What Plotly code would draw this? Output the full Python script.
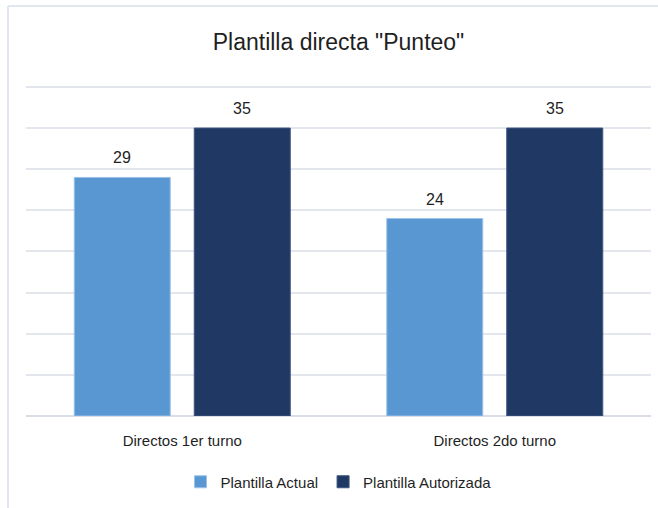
import plotly.graph_objects as go

categories = ["Directos 1er turno", "Directos 2do turno"]
plantilla_actual = [29, 24]
plantilla_autorizada = [35, 35]

FONT = "Liberation Sans, Arial, sans-serif"
TEXT_COLOR = "#1f1f1f"
GRID_COLOR = "#e3e6ec"

BARGAP = 0.232
BARGROUPGAP = 0.2

fig = go.Figure()
fig.add_trace(go.Bar(
    name="Plantilla Actual",
    x=categories,
    y=plantilla_actual,
    marker=dict(color="#5897d2", line=dict(color="#9cc2e8", width=1)),
))
fig.add_trace(go.Bar(
    name="Plantilla Autorizada",
    x=categories,
    y=plantilla_autorizada,
    marker=dict(color="#203864", line=dict(color="#3a5480", width=1)),
))

# value labels above each bar, placed at the bar centres within each group
slot = (1 - BARGAP) / 2
annotations = []
for series, offset in ((plantilla_actual, -slot / 2), (plantilla_autorizada, slot / 2)):
    for i, v in enumerate(series):
        annotations.append(dict(
            x=i + offset, y=v, xref="x", yref="y",
            text=str(v), showarrow=False,
            yanchor="bottom", yshift=9,
            font=dict(family=FONT, size=16, color=TEXT_COLOR),
        ))

# plot area spans 329 px for 40 units; a little headroom keeps the top gridline visible
Y_MAX = 40.6
px_per_unit = 329 / 40
top_margin = round(87 - (Y_MAX - 40) * px_per_unit)
plot_h = 508 - top_margin - 92

# outer frame of the chart area
frame = dict(type="line", xref="paper", yref="paper",
             line=dict(color="#e2e6ee", width=2), layer="below")
x_left = (8 - 26) / 625
x_right = (658 - 26) / 625
y_top = (416 - 6) / plot_h
y_bottom = (416 - 508) / plot_h

fig.update_layout(
    width=658,
    height=508,
    margin=dict(l=26, r=7, t=top_margin, b=92),
    paper_bgcolor="white",
    plot_bgcolor="white",
    barmode="group",
    bargap=BARGAP,
    bargroupgap=BARGROUPGAP,
    title=dict(
        text='Plantilla directa "Punteo"',
        x=0.5,
        xref="paper",
        y=1 - 42 / 508,
        yanchor="middle",
        font=dict(family=FONT, size=23, color=TEXT_COLOR),
    ),
    xaxis=dict(
        showline=False,
        showgrid=False,
        ticks="",
        ticklabelstandoff=14,
        tickfont=dict(family=FONT, size=15, color=TEXT_COLOR),
    ),
    yaxis=dict(
        range=[0, Y_MAX],
        dtick=5,
        showticklabels=False,
        showgrid=True,
        gridcolor=GRID_COLOR,
        gridwidth=1.5,
        zeroline=True,
        zerolinecolor="#d9dde5",
        zerolinewidth=1.5,
        showline=False,
    ),
    legend=dict(
        orientation="h",
        x=0.5,
        xanchor="center",
        y=-(482 - 416) / plot_h,
        yanchor="middle",
        font=dict(family=FONT, size=15, color=TEXT_COLOR),
        itemwidth=30,
        traceorder="normal",
    ),
    annotations=annotations,
    shapes=[
        dict(frame, x0=x_left, x1=x_right, y0=y_top, y1=y_top),
        dict(frame, x0=x_left, x1=x_left, y0=y_top, y1=y_bottom),
    ],
)

fig.write_html("out.html")
